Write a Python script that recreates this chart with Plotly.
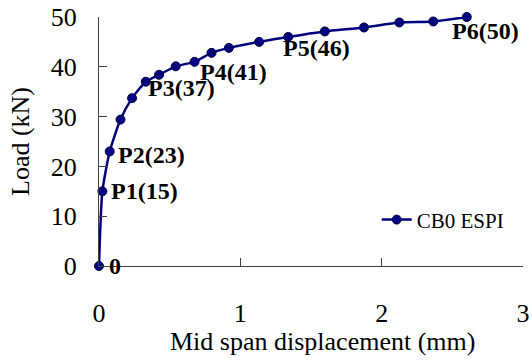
import plotly.graph_objects as go

# Load-deflection readings for beam CB0 (ESPI)
displacement_mm = [0, 0.024, 0.076, 0.152, 0.234, 0.331, 0.425, 0.543, 0.676,
                   0.796, 0.919, 1.133, 1.339, 1.598, 1.875, 2.125, 2.365, 2.602]
load_kN = [0, 15, 23, 29.4, 33.7, 37, 38.4, 40.1, 41, 42.8, 43.8, 45.0, 46,
           47.1, 47.9, 48.9, 49.1, 50]

# Labelled stages: (index into the series, label text)
stage_index = [0, 1, 2, 5, 8, 12, 17]
stage_text = ["0", "P1(15)", "P2(23)", "P3(37)", "P4(41)", "P5(46)", "P6(50)"]
# text offsets in pixels (xshift, yshift) per stage
stage_shift = [(8, 0), (7, 0), (6, -4), (0, -6), (3, -10), (-7, -11), (-17, -14)]

x_ticks = [0, 1, 2, 3]
y_ticks = [0, 10, 20, 30, 40, 50]

navy = "#000080"
font_family = "Liberation Serif, Times New Roman, serif"

fig = go.Figure()
fig.add_trace(go.Scatter(
    x=displacement_mm, y=load_kN, name="CB0 ESPI",
    mode="lines+markers",
    line=dict(color=navy, width=2.5, shape="spline", smoothing=0.6),
    marker=dict(color=navy, size=9, line=dict(color="#000040", width=1)),
    cliponaxis=False,
))

for i, txt, (dx, dy) in zip(stage_index, stage_text, stage_shift):
    fig.add_annotation(
        x=displacement_mm[i], y=load_kN[i], text="<b>%s</b>" % txt,
        showarrow=False, xanchor="left", yanchor="middle", xshift=dx, yshift=dy,
        font=dict(family=font_family, size=24, color="black"),
    )

# x-axis title, set slightly right of the axis centre
fig.add_annotation(
    x=0.526, y=-0.303, xref="paper", yref="paper",
    text="Mid span displacement (mm)", showarrow=False,
    xanchor="center", yanchor="middle",
    font=dict(family=font_family, size=26, color="black"),
)

axis_common = dict(
    showline=True, linecolor="#404040", linewidth=1,
    ticks="inside", ticklen=8, tickcolor="#404040",
    showgrid=False, zeroline=False, automargin=False,
    ticklabeloverflow="allow",
    tickfont=dict(family=font_family, size=26, color="black"),
)

fig.update_layout(
    width=532, height=363,
    margin=dict(l=99, r=9, t=17, b=97),
    plot_bgcolor="white", paper_bgcolor="white",
    showlegend=True,
    legend=dict(x=0.655, y=0.185, xanchor="left", yanchor="middle",
                bgcolor="rgba(0,0,0,0)",
                font=dict(family=font_family, size=21, color="black")),
    xaxis=dict(range=[0, 3], tickvals=x_ticks, ticklabelstandoff=24,
               **axis_common),
    yaxis=dict(range=[0, 50], tickvals=y_ticks, ticklabelstandoff=16,
               title=dict(text="Load (kN)", standoff=13,
                          font=dict(family=font_family, size=26, color="black")),
               **axis_common),
)

fig.write_html("out.html")
